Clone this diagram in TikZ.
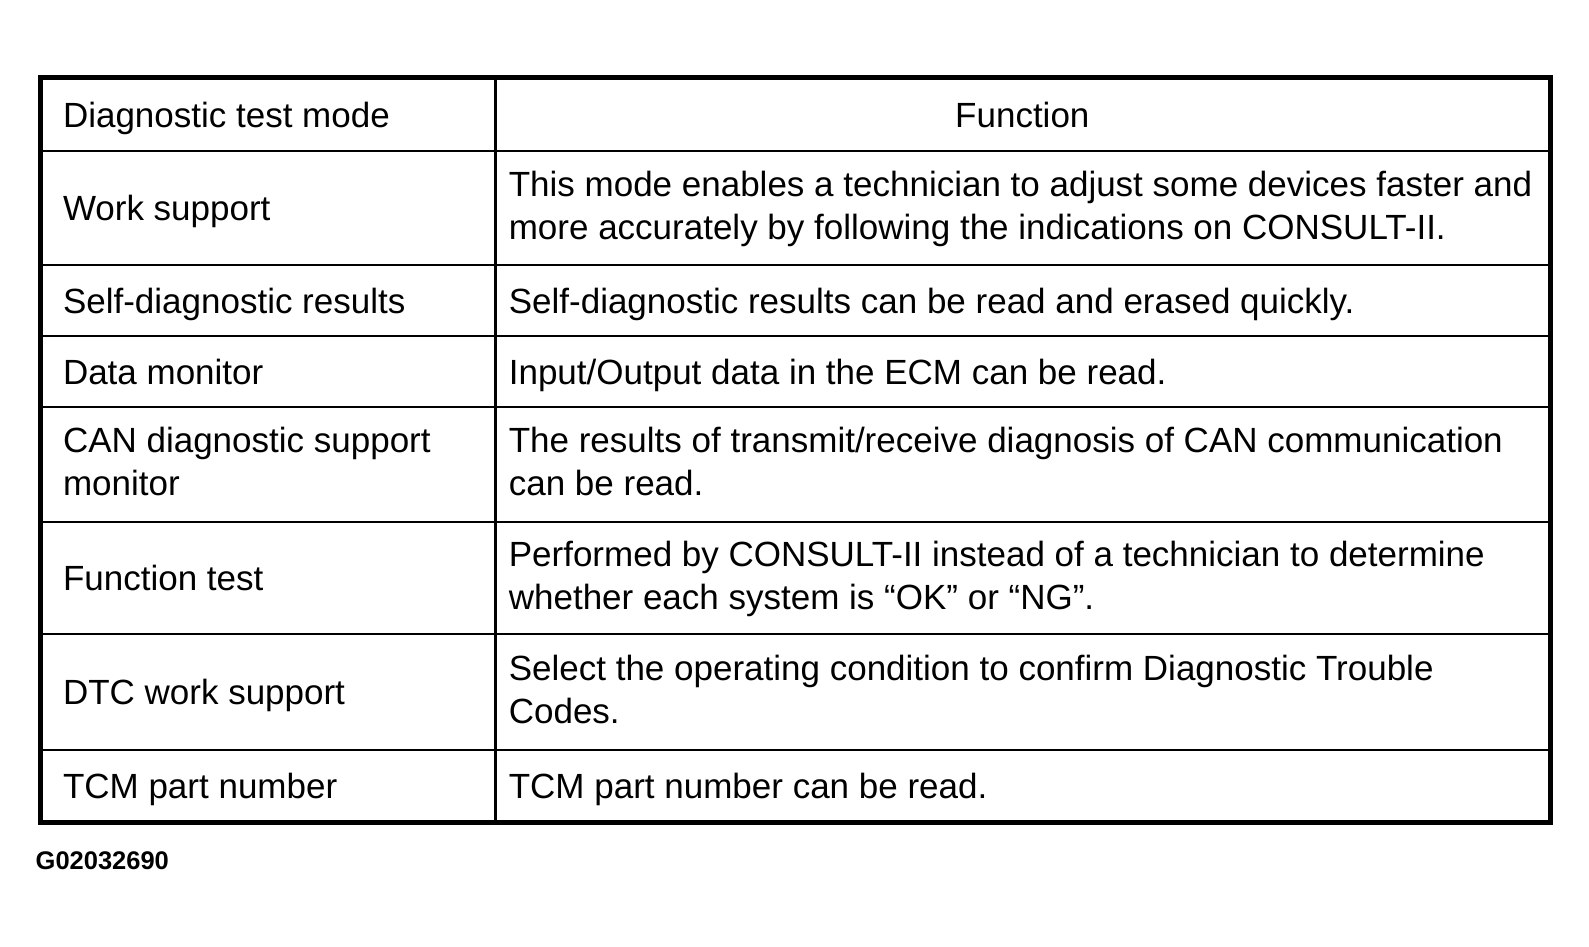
\documentclass[tikz,border=0pt]{standalone}
\usepackage{fontspec}
\setmainfont{Liberation Sans}

\begin{document}
\begin{tikzpicture}[x=1.0132pt,y=-1.0132pt,
        cell/.style={anchor=west,align=left,inner sep=0pt,
          font=\fontsize{35}{43}\selectfont,
          execute at begin node=\strut,execute at end node=\strut},
        rule/.style={line width=2pt},
        frame/.style={line width=5pt}]
  \useasboundingbox (0,0) rectangle (1568.3,933.7);

  % grid of the table
  \draw[line width=3pt] (489,76) -- (489,812);
  \foreach \y in {149,262,332,402,515,626,740}
    \draw[rule] (40,\y) -- (1530,\y);
  \draw[frame] (40,76) rectangle (1530,812);

  % header
  \node[cell] (mode) at (62,117) {Diagnostic test mode};
  \node[cell,anchor=center] (func) at (1009,117) {Function};

  % rows
  \node[cell] (work) at (62,209) {Work support};
  \node[cell] (workf) at (502,209) {This mode enables a technician to adjust some devices faster and\\
    more accurately by following the indications on CONSULT-II.};
  \node[cell] (self) at (62,301) {Self-diagnostic results};
  \node[cell] (selff) at (502,301) {Self-diagnostic results can be read and erased quickly.};
  \node[cell] (data) at (62,371) {Data monitor};
  \node[cell] (dataf) at (502,371) {Input/Output data in the ECM can be read.};
  \node[cell] (can) at (62,462) {CAN diagnostic support\\monitor};
  \node[cell] (canf) at (502,462) {The results of transmit/receive diagnosis of CAN communication\\
    can be read.};
  \node[cell] (test) at (62,574) {Function test};
  \node[cell] (testf) at (502,574) {Performed by CONSULT-II instead of a technician to determine\\
    whether each system is “OK” or “NG”.};
  \node[cell] (dtc) at (62,687) {DTC work support};
  \node[cell] (dtcf) at (502,687) {Select the operating condition to confirm Diagnostic Trouble\\
    Codes.};
  \node[cell] (tcm) at (62,780) {TCM part number};
  \node[cell] (tcmf) at (502,780) {TCM part number can be read.};

  \node[anchor=west,inner sep=0pt,font=\bfseries\fontsize{25.5}{30}\selectfont]
    (code) at (35,850) {G02032690};
\end{tikzpicture}
\end{document}
